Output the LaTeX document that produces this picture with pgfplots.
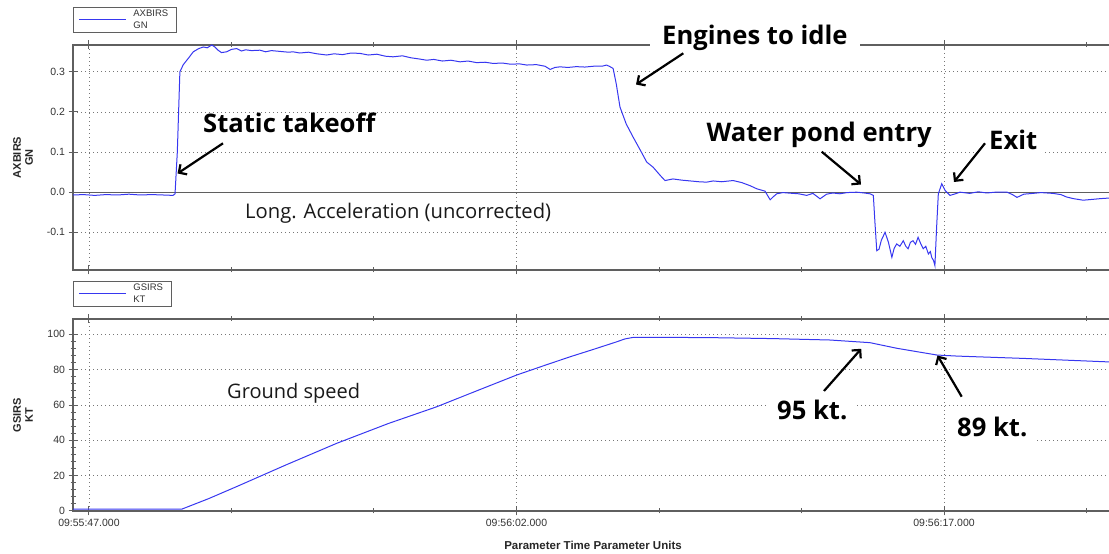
\documentclass[border=0pt]{standalone}
\usepackage{fontspec}
\setmainfont{Liberation Sans}
\newfontfamily\osans{Open Sans}
\usepackage{pgfplots}
\pgfplotsset{compat=1.18}
\usetikzlibrary{arrows.meta}
\definecolor{sig}{RGB}{55,55,240}
\definecolor{axgray}{RGB}{95,95,95}

\pgfplotstableread{
t v
46.44 -0.007
46.8 -0.006
47.2 -0.008
47.6 -0.006
48.0 -0.007
48.4 -0.005
48.8 -0.007
49.2 -0.006
49.6 -0.007
49.95 -0.008
50.02 -0.004
50.10 0.10
50.19 0.30
50.31 0.318
50.50 0.335
50.66 0.350
50.85 0.358
51.01 0.362
51.15 0.360
51.31 0.367
51.42 0.362
51.53 0.354
51.65 0.348
51.83 0.350
52.0 0.356
52.18 0.358
52.35 0.352
52.5 0.355
52.7 0.353
53.0 0.354
53.2 0.350
53.4 0.353
53.7 0.351
54.0 0.349
54.16 0.350
54.4 0.347
54.7 0.349
55.0 0.345
55.34 0.342
55.6 0.345
55.9 0.343
56.2 0.347
56.51 0.346
56.8 0.342
57.1 0.344
57.4 0.339
57.67 0.3375
58.0 0.340
58.3 0.335
58.6 0.332
58.85 0.329
59.1 0.331
59.4 0.327
59.7 0.329
60.02 0.325
60.3 0.327
60.6 0.323
60.9 0.324
61.18 0.321
61.5 0.322
61.8 0.319
62.1 0.320
62.36 0.317
62.7 0.318
63.0 0.314
63.18 0.306
63.35 0.311
63.53 0.3125
63.8 0.311
64.1 0.313
64.4 0.312
64.7 0.314
65.0 0.314
65.16 0.317
65.28 0.313
65.39 0.3085
65.5 0.27
65.63 0.2125
65.85 0.17
66.09 0.1375
66.35 0.104
66.57 0.075
66.79 0.0625
67.04 0.042
67.21 0.029
67.49 0.033
67.8 0.030
68.1 0.028
68.4 0.026
68.67 0.025
68.9 0.028
69.2 0.026
69.60 0.029
69.9 0.024
70.2 0.016
70.43 0.0085
70.72 0.0025
70.90 -0.019
71.0 -0.012
71.13 -0.004
71.35 -0.001
71.60 -0.0025
71.9 -0.004
72.18 -0.008
72.4 -0.003
72.65 -0.0165
72.88 -0.005
73.1 -0.002
73.35 -0.004
73.6 -0.001
73.94 0.0
74.2 -0.002
74.40 -0.004
74.52 -0.008
74.58 -0.08
74.64 -0.146
74.72 -0.142
74.80 -0.12
74.93 -0.10
75.05 -0.125
75.17 -0.1625
75.25 -0.14
75.34 -0.129
75.45 -0.135
75.57 -0.121
75.66 -0.135
75.74 -0.141
75.82 -0.125
75.91 -0.121
76.00 -0.130
76.09 -0.1125
76.18 -0.128
76.27 -0.141
76.36 -0.135
76.45 -0.154
76.52 -0.148
76.57 -0.163
76.63 -0.170
76.68 -0.183
76.74 -0.0875
76.80 -0.004
76.92 0.021
77.04 0.004
77.21 -0.008
77.4 -0.004
77.56 0.0
77.9 -0.003
78.2 0.001
78.5 -0.002
78.8 0.000
79.21 0.0
79.4 -0.006
79.56 -0.013
79.8 -0.005
80.12 -0.003
80.4 -0.001
80.82 -0.003
81.1 -0.006
81.3 -0.012
81.53 -0.016
81.88 -0.020
82.2 -0.018
82.5 -0.016
82.93 -0.014
}\axdata

\pgfplotstableread{
t v
46.44 1.0
48.0 1.0
50.25 1.0
51.2 7.0
52.18 13.8
53.9 26.0
55.69 38.3
57.5 49.5
59.20 59.0
60.6 68.0
62.01 77.0
63.0 82.5
63.88 87.3
64.7 91.5
65.52 95.8
65.8 97.4
66.10 98.3
67.39 98.3
69.0 98.1
71.0 97.6
73.00 96.8
74.40 95.3
75.35 92.1
76.75 88.3
77.46 87.7
79.77 86.4
82.93 84.3
}\gsdata

\pgfplotsset{
  myax/.style={
    scale only axis, width=1040bp,
    xmin=46.44, xmax=82.93,
    axis line style={axgray, line width=1.2bp},
    tick style={axgray, line width=1bp},
    tick align=center,
    major tick length=9bp, minor tick length=5bp,
    xtick={47,62,77}, minor xtick={52,57,67,72,82},
    xtick pos=both, ytick pos=left,
    grid=major,
    major grid style={axgray!85, line width=0.8bp, dash pattern=on 0.8bp off 3.2bp},
    ticklabel style={font=\fontsize{10.5bp}{12bp}\selectfont, text=black!80},
    /pgf/number format/assume math mode=true,
    ylabel style={at={(axis description cs:-0.048,0.5)}, anchor=center, align=center,
      font=\bfseries\fontsize{11bp}{12bp}\selectfont, text=black!85},
    legend style={at={(axis description cs:0,1)}, anchor=south west, yshift=12bp,
      draw=axgray, line width=0.8bp, font=\fontsize{9.5bp}{11.5bp}\selectfont, text=black!80,
      inner xsep=6bp, inner ysep=1bp, cells={align=left, anchor=west},
      /tikz/every odd column/.append style={column sep=5bp}},
    legend image code/.code={\pgfsetfillcolor{sig}\pgfpathrectangle{\pgfpoint{0bp}{-0.5bp}}{\pgfpoint{47bp}{1bp}}\pgfusepath{fill}},
  }
}

\begin{document}
\begin{tikzpicture}[x=1bp,y=1bp]
\useasboundingbox (0,0) rectangle (1109,554);
\begin{axis}[myax, at={(73bp,284bp)}, anchor=south west, height=225bp,
  ymin=-0.194, ymax=0.367,
  ytick={-0.1,0.1,0.2,0.3}, minor y tick num=4,
  extra y ticks={0}, extra y tick style={grid=major, major grid style={solid, axgray, line width=1.2bp}},
  /pgf/number format/.cd, fixed, fixed zerofill, precision=1, /pgfplots/.cd,
  xticklabels={,,},
  ylabel={AXBIRS\\GN}]
\addplot[sig, line width=1bp] table[x=t,y=v] {\axdata};
\addlegendentry{AXBIRS\\GN}
\end{axis}
\begin{axis}[myax, at={(73bp,43bp)}, anchor=south west, height=192bp,
  ymin=0, ymax=108.7,
  ytick={0,20,40,60,80,100}, minor y tick num=4,
  xticklabels={09:55:47.000,09:56:02.000,09:56:17.000},
  ylabel={GSIRS\\KT},
  xlabel={Parameter Time Parameter Units},
  xlabel style={at={(axis description cs:0.5,0)}, anchor=base, yshift=-39bp,
    font=\bfseries\fontsize{11.5bp}{12bp}\selectfont, text=black!85}]
\addplot[sig, line width=1bp] table[x=t,y=v] {\gsdata};
\addlegendentry{GSIRS\\KT}
\end{axis}

\tikzset{ann/.style={font=\osans\bfseries\fontsize{25.6bp}{28bp}\selectfont, inner sep=0pt},
  arr/.style={line width=2.2bp, -{Straight Barb[length=6bp,width=12bp,line width=2.2bp]}}}
\node[ann, anchor=base west] at (203,421) {Static takeoff};
\draw[arr] (223,410.7) -- (177.5,380.5);
\node[ann, anchor=base west, fill=white, inner xsep=12bp, inner ysep=3bp] at (650,509) {Engines to idle};
\draw[arr] (683.3,500.7) -- (636,469.5);
\node[ann, anchor=base east, fill=white, inner xsep=12bp, inner ysep=4bp] at (944,412.3) {Water pond entry};
\draw[arr] (821.7,402.3) -- (861,369.5);
\node[ann, anchor=base west, fill=white, inner xsep=8bp, inner ysep=4bp] at (981,404) {Exit};
\draw[arr] (985,410.7) -- (954,372);
\node[font=\osans\fontsize{20.2bp}{22bp}\selectfont, anchor=base west, inner sep=0pt, text=black!90] at (245,335.7) {Long. Acceleration (uncorrected)};
\node[font=\osans\fontsize{20bp}{22bp}\selectfont, anchor=base west, inner sep=0pt, text=black!90] at (227,155.7) {Ground speed};
\node[ann, anchor=base west, fill=white, inner xsep=8bp, inner ysep=4bp] at (769,134) {95 kt.};
\draw[arr] (824,163) -- (861.2,205.2);
\node[ann, anchor=base west, fill=white, inner xsep=10bp, inner ysep=4bp] at (947,117.3) {89 kt.};
\draw[arr] (961.7,157.3) -- (937.5,198.5);
\end{tikzpicture}
\end{document}
